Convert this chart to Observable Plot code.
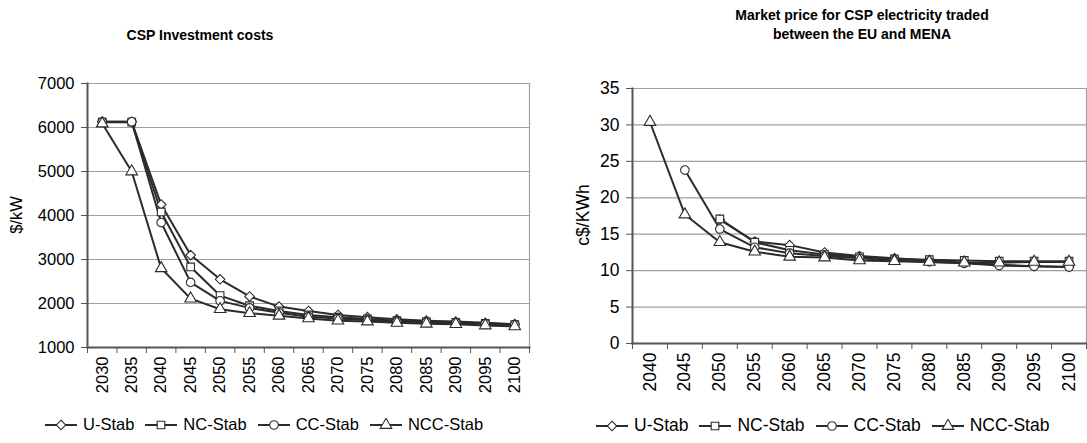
<!DOCTYPE html>
<html><head><meta charset="utf-8">
<script src="https://cdn.jsdelivr.net/npm/d3@7"></script>
<script src="https://cdn.jsdelivr.net/npm/@observablehq/plot@0.6"></script>
<style>
body{margin:0;background:#fff;font-family:"Liberation Sans",Arial,sans-serif;}
#wrap{position:relative;width:1087px;height:443px;overflow:hidden;background:#fff}
.title{position:absolute;font-weight:bold;font-size:14px;text-align:center;color:#000;line-height:19px}
.chart{position:absolute}
.chart svg{overflow:visible}
.ylab{position:absolute;white-space:nowrap;transform:translate(-50%,-50%) rotate(-90deg);color:#000}
.legend{position:absolute;display:flex;align-items:center;white-space:nowrap;color:#000}
.legend .item{display:flex;align-items:center;margin-right:11px}
.legend svg{margin-right:6px}
</style></head><body><div id="wrap"></div><script>
// ---- data ----
const seriesNames = ["U-Stab", "NC-Stab", "CC-Stab", "NCC-Stab"];
const seriesSymbols = ["diamond2", "square", "circle", "triangle"];

const yearsLeft = [2030,2035,2040,2045,2050,2055,2060,2065,2070,2075,2080,2085,2090,2095,2100];
const costU   = [6130,6130,4250,3100,2550,2160,1930,1830,1740,1690,1640,1610,1590,1560,1530];
const costNC  = [6120,6120,4080,2830,2180,1950,1830,1740,1690,1650,1610,1590,1570,1550,1520];
const costCC  = [6130,6130,3840,2480,2060,1900,1790,1700,1660,1620,1590,1570,1560,1540,1520];
const costNCC = [6090,5000,2800,2110,1870,1780,1720,1660,1610,1590,1560,1540,1530,1500,1480];
const yTicksLeft = [1000,2000,3000,4000,5000,6000,7000];

const yearsRight = [2040,2045,2050,2055,2060,2065,2070,2075,2080,2085,2090,2095,2100];
const priceU   = [null,null,17.0,14.0,13.5,12.5,12.0,11.7,11.4,11.1,10.8,10.6,10.5];
const priceNC  = [null,null,17.1,13.9,12.8,12.2,11.9,11.6,11.5,11.4,11.3,11.3,11.3];
const priceCC  = [null,23.8,15.7,13.2,12.4,12.0,11.7,11.4,11.2,11.0,10.7,10.6,10.5];
const priceNCC = [30.4,17.7,13.9,12.6,11.9,11.8,11.4,11.3,11.2,11.1,11.1,11.2,11.2];
const yTicksRight = [0,5,10,15,20,25,30,35];

const titleLeft = "CSP Investment costs";
const titleRight = ["Market price for CSP electricity traded", "between the EU and MENA"];
const yLabelLeft = "$/kW";
const yLabelRight = "c$/KWh";

// ---- helpers ----
const INK = "#2b2b2b";
function rows(years, arrays) {
  const out = [];
  arrays.forEach((arr, i) => arr.forEach((v, j) => {
    if (v != null) out.push({year: years[j], value: v, series: seriesNames[i]});
  }));
  return out;
}
function boundaries(years) {
  const step = years[1] - years[0];
  return [...years.map(y => y - step / 2), years[years.length - 1] + step / 2];
}

function makeChart(years, data, yDomain, yTicks, opts) {
  const b = boundaries(years);
  const FS = opts.fs;
  return Plot.plot({
    width: opts.width, height: opts.height,
    marginLeft: opts.ml, marginRight: opts.mr, marginTop: opts.mt, marginBottom: opts.mb,
    style: {fontFamily: "Liberation Sans, Arial, sans-serif", fontSize: FS + "px", color: "#000", background: "transparent"},
    x: {type: "linear", domain: [b[0], b[b.length - 1]]},
    y: {domain: yDomain},
    symbol: {domain: seriesNames, range: seriesSymbols},
    marks: [
      Plot.gridY(yTicks, {stroke: "#a0a0a0", strokeOpacity: 1, strokeWidth: 1.2}),
      Plot.frame({anchor: "right", stroke: "#a0a0a0", strokeWidth: 1.2}),
      Plot.axisY({ticks: yTicks, tickSize: 6, tickPadding: 7, fontSize: FS, label: null, stroke: "#555", tickFormat: d => String(d)}),
      Plot.axisX({ticks: b, tickSize: 6, tickFormat: () => "", label: null, stroke: "#555"}),
      Plot.axisX({ticks: years, tickSize: 0, tickPadding: 9, tickRotate: -90, fontSize: FS, label: null, tickFormat: d => String(d)}),
      Plot.frame({anchor: "left", stroke: "#555", strokeWidth: 2}),
      Plot.frame({anchor: "bottom", stroke: "#555", strokeWidth: 2}),
      Plot.line(data, {x: "year", y: "value", z: "series", stroke: INK, strokeWidth: 2}),
      Plot.dot(data, {x: "year", y: "value", symbol: "series", r: 4.3, fill: "white", stroke: INK, strokeWidth: 1.1})
    ]
  });
}

const wrap = document.getElementById("wrap");
function place(el, cls, left, top, style) {
  el.className = cls; el.style.left = left + "px"; el.style.top = top + "px";
  if (style) Object.assign(el.style, style);
  wrap.appendChild(el);
  return el;
}

// Left chart
const cl = document.createElement("div");
cl.appendChild(makeChart(yearsLeft, rows(yearsLeft, [costU, costNC, costCC, costNCC]), [1000, 7000], yTicksLeft,
  {width: 540, height: 340, ml: 87, mr: 11, mt: 23, mb: 53, fs: 16.5}));
place(cl, "chart", 0, 60);

// Right chart
const cr = document.createElement("div");
cr.appendChild(makeChart(yearsRight, rows(yearsRight, [priceU, priceNC, priceCC, priceNCC]), [0, 35], yTicksRight,
  {width: 527, height: 340, ml: 72, mr: 1, mt: 28, mb: 57, fs: 17.5}));
place(cr, "chart", 560, 60);

// Titles
const tl = document.createElement("div"); tl.textContent = titleLeft;
place(tl, "title", 100, 26, {width: "200px"});
const tr = document.createElement("div"); tr.innerHTML = titleRight.join("<br>");
place(tr, "title", 712, 6, {width: "300px"});

// Y labels
const yl = document.createElement("div"); yl.textContent = yLabelLeft; place(yl, "ylab", 16, 215, {fontSize: "16.5px"});
const yr = document.createElement("div"); yr.textContent = yLabelRight; place(yr, "ylab", 583, 215, {fontSize: "17.5px"});

// Legends
function legend(left, top, fs) {
  const lg = document.createElement("div");
  seriesNames.forEach((name, i) => {
    const it = document.createElement("div"); it.className = "item";
    const svg = d3.create("svg").attr("width", 32).attr("height", 14);
    svg.append("line").attr("x1", 0).attr("x2", 32).attr("y1", 7).attr("y2", 7).attr("stroke", INK).attr("stroke-width", 2);
    const typ = {diamond2: d3.symbolDiamond2, square: d3.symbolSquare, circle: d3.symbolCircle, triangle: d3.symbolTriangle}[seriesSymbols[i]];
    svg.append("path").attr("d", d3.symbol(typ, 4.3 * 4.3 * Math.PI)()).attr("transform", "translate(16,7)")
      .attr("fill", "white").attr("stroke", INK).attr("stroke-width", 1.1);
    it.appendChild(svg.node());
    const t = document.createElement("span"); t.textContent = name; it.appendChild(t);
    lg.appendChild(it);
  });
  place(lg, "legend", left, top, {fontSize: fs + "px"});
}
legend(45, 415, 16.5);
legend(596, 415, 17.5);
</script></body></html>
